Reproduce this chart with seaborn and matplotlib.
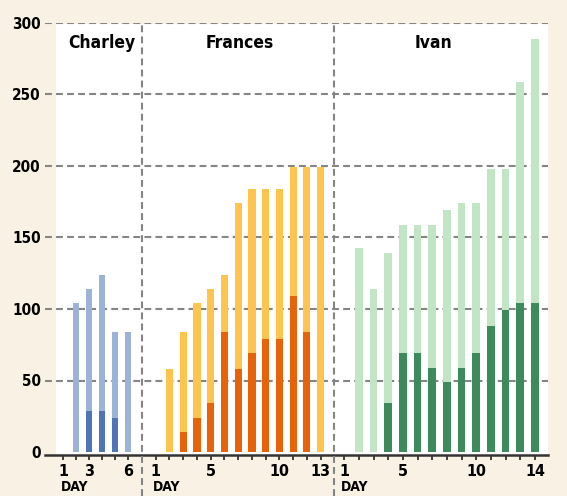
import numpy as np
import pandas as pd
import matplotlib
matplotlib.use('Agg')
import matplotlib.pyplot as plt
import seaborn as sns
from matplotlib.patches import Rectangle
from matplotlib.lines import Line2D
import matplotlib.transforms as mtransforms

sns.set_theme(style='white')
plt.rcParams['font.family'] = ['DejaVu Sans']
plt.rcParams['font.stretch'] = 'condensed'
plt.rcParams['font.weight'] = 'bold'

# data
charley_days = [2, 3, 4, 5, 6]
charley_total = [104, 114, 124, 84, 84]
charley_part = [0, 29, 29, 24, 0]

frances_days = [2, 3, 4, 5, 6, 7, 8, 9, 10, 11, 12, 13]
frances_total = [58, 84, 104, 114, 124, 174, 184, 184, 184, 199, 199, 199]
frances_part = [0, 14, 24, 34, 84, 58, 69, 79, 79, 109, 84, 0]

ivan_days = [2, 3, 4, 5, 6, 7, 8, 9, 10, 11, 12, 13, 14]
ivan_total = [143, 114, 139, 159, 159, 159, 169, 174, 174, 198, 198, 259, 289]
ivan_part = [0, 0, 34, 69, 69, 59, 49, 59, 69, 88, 99, 104, 104]

storms = ['Charley', 'Frances', 'Ivan']
n_days = [6, 13, 14]
xticklabels = [[1, 3, 6], [1, 5, 10, 13], [1, 5, 10, 14]]
light = ['#9cb3d8', '#ffc44d', '#c1e5c5']
dark = ['#4f75b6', '#e8620a', '#3d8a5a']

W, H = 567, 496
bg_col = '#f9f2e4'
grid_col = '#858585'
dash = (0, (3.3, 2.0))

def fx(px):
    return px / W

def fy(py):
    return 1 - py / H

fig = plt.figure(figsize=(W / 100, H / 100), dpi=100, facecolor=bg_col)

# white plotting area
fig.add_artist(Rectangle((fx(56), fy(455)), fx(547.7) - fx(56), fy(24) - fy(455),
                         transform=fig.transFigure, facecolor='white',
                         edgecolor='none', zorder=-1))

# background axes: y labels, grid, baseline
bg = fig.add_axes([fx(45), fy(452), fx(547.7) - fx(45), fy(23) - fy(452)])
bg.set_facecolor('none')
bg.set_ylim(0, 300)
bg.set_xlim(0, 1)
bg.set_yticks(range(0, 301, 50))
bg.set_yticklabels([str(v) for v in range(0, 301, 50)])
bg.tick_params(axis='y', length=0, pad=3, labelsize=11, labelcolor='black')
bg.set_xticks([])
for v in range(50, 301, 50):
    bg.axhline(v, color=grid_col, lw=1.5, ls=dash, zorder=0)
for s in ['top', 'right', 'left']:
    bg.spines[s].set_visible(False)
bg.spines['bottom'].set_position(('outward', 2.2))
bg.spines['bottom'].set_color('#333333')
bg.spines['bottom'].set_linewidth(1.8)

# vertical separators
for xp in [141.7, 334]:
    fig.add_artist(Line2D([fx(xp), fx(xp)], [0, fy(23)], transform=fig.transFigure,
                          color=grid_col, lw=1.5, ls=dash))

panels = [
    (charley_days, charley_total, charley_part, 56, 141.7, (0.46, 7.06), 4.0),
    (frances_days, frances_total, frances_part, 141.7, 334, (-0.02, 13.97), 7.1),
    (ivan_days, ivan_total, ivan_part, 334, 547.7, (0.3, 14.87), 7.05),
]

for i, (days, total, part, x0, x1, xl, tx) in enumerate(panels):
    ax = fig.add_axes([fx(x0), fy(452), fx(x1) - fx(x0), fy(23) - fy(452)])
    ax.set_facecolor('none')
    df = pd.DataFrame({'day': days, 'total': total, 'part': part})
    sns.barplot(data=df, x='day', y='total', native_scale=True, width=0.52,
                color=light[i], saturation=1, linewidth=0, ax=ax)
    sub = df[df['part'] > 0]
    sns.barplot(data=sub, x='day', y='part', native_scale=True, width=0.52,
                color=dark[i], saturation=1, linewidth=0, ax=ax)
    ax.set_xlim(*xl)
    ax.set_ylim(0, 300)
    ax.set_xlabel('')
    ax.set_ylabel('')
    ax.set_yticks([])
    ticks = list(range(1, n_days[i] + 1))
    ax.set_xticks(ticks)
    ax.set_xticklabels([str(t) if t in xticklabels[i] else '' for t in ticks])
    ax.tick_params(axis='x', direction='out', length=3.6, width=1.3, color='#333333',
                   pad=2.5, labelsize=11.5, labelcolor='black', bottom=True)
    for s in ['top', 'right', 'left', 'bottom']:
        ax.spines[s].set_visible(False)
    ax.spines['bottom'].set_position(('outward', 2.2))
    ax.text(tx, 286, storms[i], ha='center', va='center', fontsize=12.5,
            fontweight='bold', color='black')
    trans = mtransforms.blended_transform_factory(ax.transData, fig.transFigure)
    ax.text(0.8, fy(480), 'DAY', transform=trans, ha='left', va='top',
            fontsize=10, fontweight='bold', color='black', clip_on=False)

fig.savefig('out.png', dpi=100, facecolor=bg_col)
